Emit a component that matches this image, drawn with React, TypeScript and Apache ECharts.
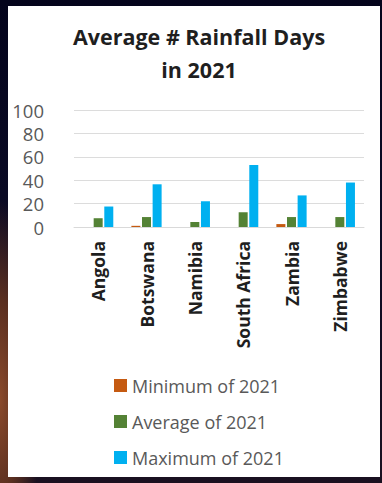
import React, { useEffect, useRef } from "react";
import * as echarts from "echarts";

const categories = ["Angola", "Botswana", "Namibia", "South Africa", "Zambia", "Zimbabwe"];
const minimum2021 = [0, 1, 0, 0, 2.5, 0];
const average2021 = [7.5, 8.5, 4.3, 12.6, 8.5, 8.5];
const maximum2021 = [17.5, 36.5, 22, 53, 27, 38];
const yTicks = [0, 20, 40, 60, 80, 100];

export default function App() {
  const ref = useRef<HTMLDivElement>(null);
  useEffect(() => {
    if (!ref.current) return;
    const chart = echarts.init(ref.current, null, { renderer: "svg" });
    const font = "'Open Sans', 'Liberation Sans', sans-serif";
    chart.setOption({
      animation: false,
      backgroundColor: "transparent",
      title: {
        text: "Average # Rainfall Days\nin 2021",
        left: 194,
        top: 15,
        textAlign: "center",
        textStyle: {
          fontFamily: font,
          fontWeight: "bold",
          fontSize: 21.5,
          lineHeight: 33,
          color: "#1f1f1f",
        },
      },
      grid: { left: 74, right: 18, top: 110, bottom: 256 },
      xAxis: {
        type: "category",
        data: categories,
        axisLine: { lineStyle: { color: "#d9d9d9" } },
        axisTick: { show: false },
        axisLabel: {
          rotate: 90,
          margin: 14,
          fontFamily: font,
          fontWeight: "bold",
          fontSize: 17.5,
          color: "#1f1f1f",
        },
      },
      yAxis: {
        type: "value",
        min: 0,
        max: 100,
        interval: 20,
        axisLine: { show: false },
        axisTick: { show: false },
        splitLine: { lineStyle: { color: "#dcdcdc" } },
        axisLabel: {
          margin: 30,
          fontFamily: font,
          fontSize: 18.5,
          color: "#595959",
          formatter: (v: number) => (yTicks.includes(v) ? String(v) : ""),
        },
      },
      legend: {
        orient: "vertical",
        left: 109,
        top: 369,
        itemWidth: 13,
        itemHeight: 13,
        itemGap: 13,
        icon: "rect",
        textStyle: {
          fontFamily: font,
          fontSize: 18,
          color: "#595959",
          lineHeight: 23,
        },
        data: ["Minimum of 2021", "Average of 2021", "Maximum of 2021"],
      },
      series: [
        {
          name: "Minimum of 2021",
          type: "bar",
          data: minimum2021,
          barWidth: 9,
          barGap: "18%",
          itemStyle: { color: "#c55a11" },
        },
        {
          name: "Average of 2021",
          type: "bar",
          data: average2021,
          barWidth: 9,
          barGap: "18%",
          itemStyle: { color: "#548235" },
        },
        {
          name: "Maximum of 2021",
          type: "bar",
          data: maximum2021,
          barWidth: 9,
          barGap: "18%",
          itemStyle: { color: "#00b0f0" },
        },
      ],
    });
    return () => chart.dispose();
  }, []);
  return (
    <div
      style={{
        position: "absolute",
        left: 0,
        top: 0,
        width: 382,
        height: 483,
        overflow: "hidden",
        background:
          "radial-gradient(ellipse 40px 200px at 0px 400px, #8a4a2c 0%, #5a2f20 50%, rgba(10,10,30,0) 100%), linear-gradient(180deg, #04041c 0%, #0a0a24 40%, #1a1020 100%)",
      }}
    >
      <div
        style={{
          position: "absolute",
          left: 8,
          top: 6,
          width: 372,
          height: 471,
          background: "#ffffff",
        }}
      />
      <div ref={ref} style={{ position: "absolute", left: 0, top: 0, width: 382, height: 483 }} />
    </div>
  );
}
